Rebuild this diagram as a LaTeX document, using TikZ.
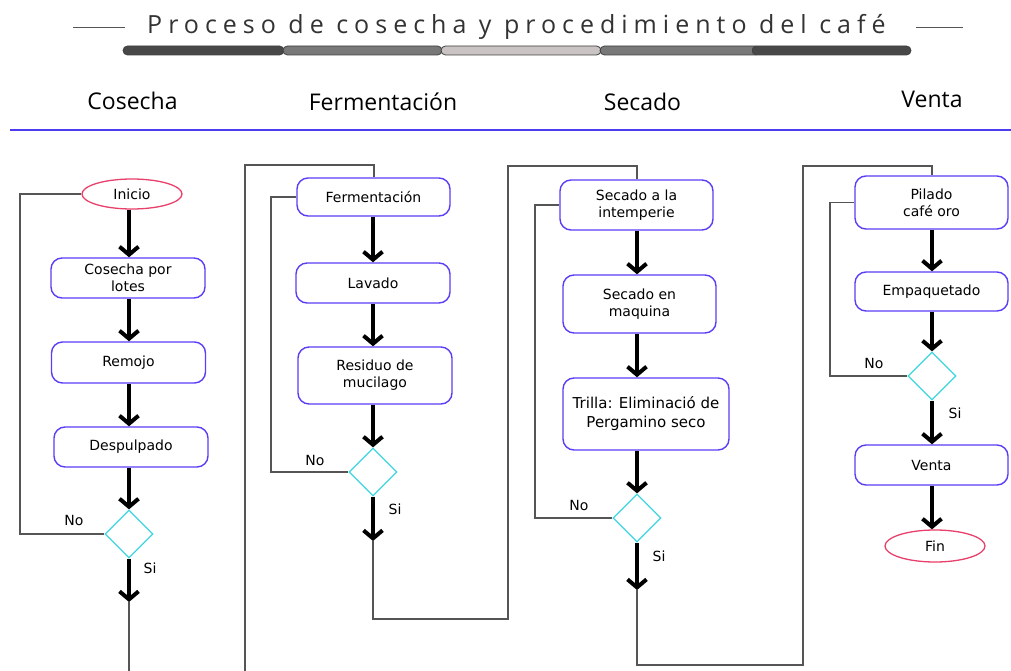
\documentclass[tikz,border=0pt]{standalone}
\usepackage{fontspec}
\setmainfont{DejaVu Sans}
\newfontfamily\headfont{Open Sans}
\newfontfamily\titlefont[LetterSpace=24]{Open Sans}
\usetikzlibrary{shapes.geometric,arrows.meta}
\definecolor{boxc}{HTML}{5B3DF5}
\definecolor{termc}{HTML}{E8406A}
\definecolor{decc}{HTML}{3FD6E0}
\definecolor{connc}{HTML}{555555}
\definecolor{bluel}{HTML}{4B3CF0}
\definecolor{bardark}{HTML}{484848}
\definecolor{barmid}{HTML}{787878}
\definecolor{barlight}{HTML}{C9C3C3}
\definecolor{titlec}{HTML}{333333}
\begin{document}
\begin{tikzpicture}[x=1pt,y=-1pt,
  proc/.style={draw=boxc, line width=1.4pt, rounded corners=11pt, minimum width=154pt, minimum height=40pt, align=center, inner sep=2pt, font=\fontsize{14}{17}\selectfont},
  term/.style={draw=termc, ellipse, line width=1.3pt, minimum width=100pt, minimum height=30pt, inner sep=0pt, font=\fontsize{14}{17}\selectfont},
  dec/.style={draw=decc, diamond, aspect=1, minimum size=48pt, inner sep=0pt, line width=1.3pt},
  arr/.style={line width=4pt, black, -{Straight Barb[length=8pt,width=19pt]}},
  conn/.style={draw=connc, line width=1.5pt},
  lab/.style={font=\fontsize{14}{17}\selectfont, inner sep=0pt},
  head/.style={font=\headfont\fontsize{23}{26}\selectfont, anchor=base, inner sep=0pt},
  seg/.style={draw=black!75, line width=0.8pt, rounded corners=4.5pt},
]
\useasboundingbox (0,0) rectangle (1011,671);
\fill[white] (0,0) rectangle (1011,671);
\clip (0,0) rectangle (1011,671);

% title
\node[anchor=base west, inner sep=0pt, text=titlec, font=\titlefont\fontsize{25}{28}\selectfont] (title) at (147,34) {Proceso de cosecha y procedimiento del café};
\draw[connc, line width=1pt] (73,28) -- (125,28);
\draw[connc, line width=1pt] (916,28) -- (963,28);
\filldraw[seg, fill=bardark] (123,46) rectangle (284,55);
\filldraw[seg, fill=barmid] (283,46) rectangle (442,55);
\filldraw[seg, fill=barlight] (441,46) rectangle (601,55);
\filldraw[seg, fill=barmid] (600,46) rectangle (760,55);
\filldraw[seg, fill=bardark] (752,46) rectangle (911,55);
\fill[barmid] (605,47) rectangle (752,54);

% headers
\node[head] (h-cos) at (132.5,110) {Cosecha};
\node[head] (h-fer) at (383,111) {Fermentación};
\node[head] (h-sec) at (642.5,111) {Secado};
\node[head] (h-ven) at (932,108) {Venta};
\draw[bluel, line width=2.5pt] (10,130) -- (1011,130);

% column coordinates
\coordinate (k1) at (129,0);
\coordinate (k2) at (373,0);
\coordinate (k3) at (637,0);
\coordinate (k4) at (932,0);

% column 1
\node[term] (ini) at (132,194) {Inicio};
\node[proc] (c1) at (128,278) {Cosecha por\\lotes};
\node[proc, minimum height=41pt] (c2) at (128.5,362.5) {Remojo};
\node[proc] (c3) at (131,447) {Despulpado};
\node[dec] (d1) at (129,534) {};
\coordinate (s1) at (129,602);
\coordinate (l1) at (20,0);
\coordinate (b1) at (245,700);
\coordinate (t2) at (374,165);

% column 2
\node[proc, minimum width=153pt, minimum height=38pt] (f1) at (373.5,197) {Fermentación};
\node[proc] (f2) at (373,283) {Lavado};
\node[proc, minimum height=57pt] (f3) at (375,375.5) {Residuo de\\mucilago};
\node[dec] (d2) at (373,472) {};
\coordinate (s2) at (373,541);
\coordinate (l2) at (271,0);
\coordinate (b2) at (508,619);
\coordinate (t3) at (637,166);

% column 3
\node[proc, minimum width=153pt, minimum height=50pt] (g1) at (636.5,205) {Secado a la\\intemperie};
\node[proc, minimum width=153pt, minimum height=58pt] (g2) at (639.5,304) {Secado en\\maquina};
\node[proc, minimum width=166pt, minimum height=72pt, font=\fontsize{15}{19}\selectfont] (g3) at (646,414) {Trilla: Eliminació de\\Pergamino seco};
\node[dec] (d3) at (637,518) {};
\coordinate (s3) at (637,590);
\coordinate (l3) at (535,0);
\coordinate (b3) at (803,665);
\coordinate (t4) at (932,166);

% column 4
\node[proc, minimum width=153pt, minimum height=53pt] (p1) at (931.5,202.5) {Pilado\\café oro};
\node[proc, minimum width=153pt, minimum height=39pt] (p2) at (931.5,291.5) {Empaquetado};
\node[dec] (d4) at (932,376) {};
\node[proc, minimum width=153pt] (p3) at (931.5,465) {Venta};
\node[term, minimum height=32pt] (fin) at (935,546) {Fin};
\coordinate (l4) at (830,0);

% arrows column 1
\draw[arr] (ini.south -| k1) -- (c1.north -| k1);
\draw[arr] (c1.south -| k1) -- (c2.north -| k1);
\draw[arr] (c2.south -| k1) -- (c3.north -| k1);
\draw[arr] (c3.south -| k1) -- (d1.north);
\draw[arr] (d1.south) -- (s1);
\draw[conn] (d1.west) -- (d1.west -| l1) |- (ini.west);
\draw[conn] (s1) |- (b1) |- (t2) -- (t2 |- f1.north);
\node[lab] (no1) at (74,520) {No};
\node[lab] (si1) at (150,568) {Si};

% arrows column 2
\draw[arr] (f1.south -| k2) -- (f2.north -| k2);
\draw[arr] (f2.south -| k2) -- (f3.north -| k2);
\draw[arr] (f3.south -| k2) -- (d2.north);
\draw[arr] (d2.south) -- (s2);
\draw[conn] (d2.west) -- (d2.west -| l2) |- (f1.west);
\draw[conn] (s2) |- (b2) |- (t3) -- (t3 |- g1.north);
\node[lab] (no2) at (315,460) {No};
\node[lab] (si2) at (395,509) {Si};

% arrows column 3
\draw[arr] (g1.south -| k3) -- (g2.north -| k3);
\draw[arr] (g2.south -| k3) -- (g3.north -| k3);
\draw[arr] (g3.south -| k3) -- (d3.north);
\draw[arr] (d3.south) -- (s3);
\draw[conn] (d3.west) -- (d3.west -| l3) |- (g1.west);
\draw[conn] (s3) |- (b3) |- (t4) -- (t4 |- p1.north);
\node[lab] (no3) at (579,505) {No};
\node[lab] (si3) at (659,556) {Si};

% arrows column 4
\draw[arr] (p1.south -| k4) -- (p2.north -| k4);
\draw[arr] (p2.south -| k4) -- (d4.north);
\draw[arr] (d4.south) -- (p3.north -| k4);
\draw[arr] (p3.south -| k4) -- (fin.north -| k4);
\draw[conn] (d4.west) -- (d4.west -| l4) |- (p1.west);
\node[lab] (no4) at (874,363) {No};
\node[lab] (si4) at (955,413) {Si};
\end{tikzpicture}
\end{document}
